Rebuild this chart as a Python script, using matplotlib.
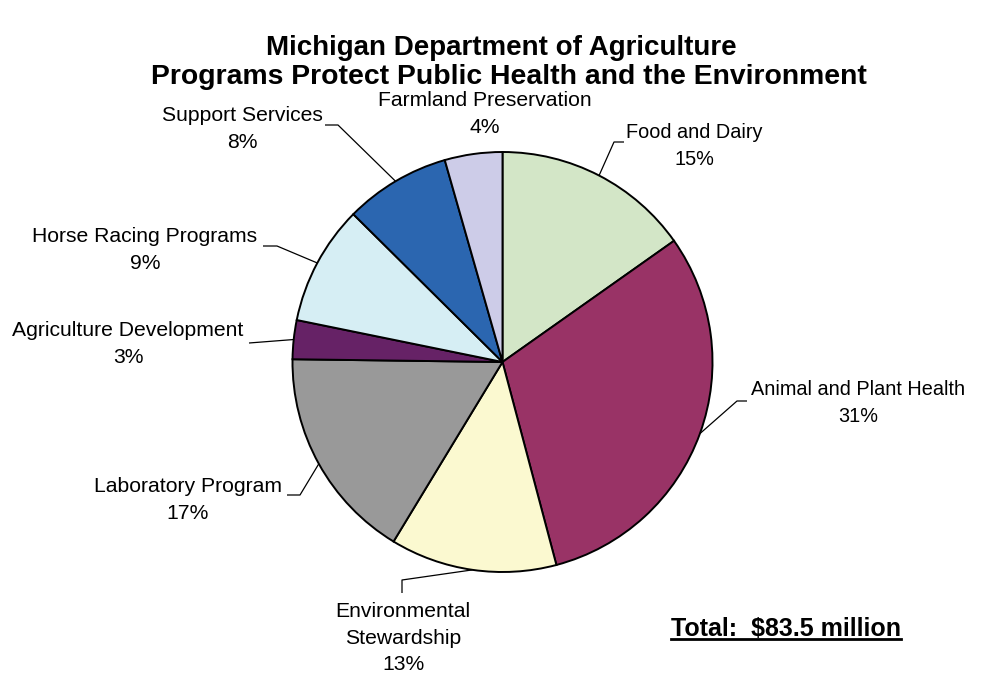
import numpy as np
import matplotlib
matplotlib.use("Agg")
import matplotlib.pyplot as plt

# Budget by program, $ millions
programas = ["Food and Dairy", "Animal and Plant Health", "Environmental\nStewardship",
             "Laboratory Program", "Agriculture Development", "Horse Racing Programs",
             "Support Services", "Farmland Preservation"]
valores = [12.7, 25.6, 10.7, 13.8, 2.5, 7.7, 6.8, 3.7]
cores = ["#D3E6C7", "#993366", "#FBF9D0", "#999999", "#662266", "#D6EEF4", "#2B66B0", "#CDCCE8"]
total_texto = "Total:  $83.5 million"

plt.rcParams['font.family'] = ['Liberation Sans', 'DejaVu Sans']

fig = plt.figure(figsize=(9.99, 6.75), dpi=100)
ax = fig.add_axes([0, 0, 1, 1])

H = 675
centro = (502.5, H - 362)
raio = 210

wedges, _ = ax.pie(valores, colors=cores, startangle=90, counterclock=False,
                   center=centro, radius=raio,
                   wedgeprops=dict(edgecolor='black', linewidth=1.4))
ax.set_xlim(0, 999)
ax.set_ylim(0, H)
ax.set_aspect('equal')
ax.axis('off')

# label position (pixel coords, top-left origin), font size, leader start / knee
pos_rotulos = [(694, 146), (858, 403), (403, 638), (188, 500),
               (128, 344), (145, 250), (242, 129), (485, 114)]
tam_rotulos = [14.3, 14.3, 15.2, 15.2, 15.2, 15.2, 15.2, 15.2]
guias = [((624, 142), (614, 142)), ((747, 401), (737, 401)), ((402, 593), (402, 580)),
         ((287, 495), (300, 495)), ((249, 343), (249, 343)), ((263, 246), (277, 246)),
         ((325, 125), (338, 125)), None]

total = sum(valores)
for w, nome, v, (px, py), fs, g in zip(wedges, programas, valores, pos_rotulos,
                                      tam_rotulos, guias):
    ax.text(px, H - py, f"{nome}\n{v / total * 100:.0f}%", ha='center', va='center',
            fontsize=fs, linespacing=1.5 * 15.2 / fs)
    if g is None:
        continue
    ang = np.deg2rad((w.theta1 + w.theta2) / 2)
    fim = (centro[0] + raio * np.cos(ang), centro[1] + raio * np.sin(ang))
    (x0, y0), (x1, y1) = g
    ax.plot([x0, x1, fim[0]], [H - y0, H - y1, fim[1]], color='black', lw=0.9,
            solid_capstyle='butt')

ax.text(501, H - 48, "Michigan Department of Agriculture", ha='center', va='center',
        fontsize=20.0, fontweight='bold')
ax.text(509, H - 77, "Programs Protect Public Health and the Environment", ha='center',
        va='center', fontsize=20.45, fontweight='bold')

t = ax.text(786, H - 629, total_texto, ha='center', va='center', fontsize=18,
            fontweight='bold')
fig.canvas.draw()
bb = t.get_window_extent().transformed(ax.transData.inverted())
ax.plot([bb.x0, bb.x1], [bb.y0 + 2, bb.y0 + 2], color='black', lw=2)

fig.savefig("out.png", dpi=100)
